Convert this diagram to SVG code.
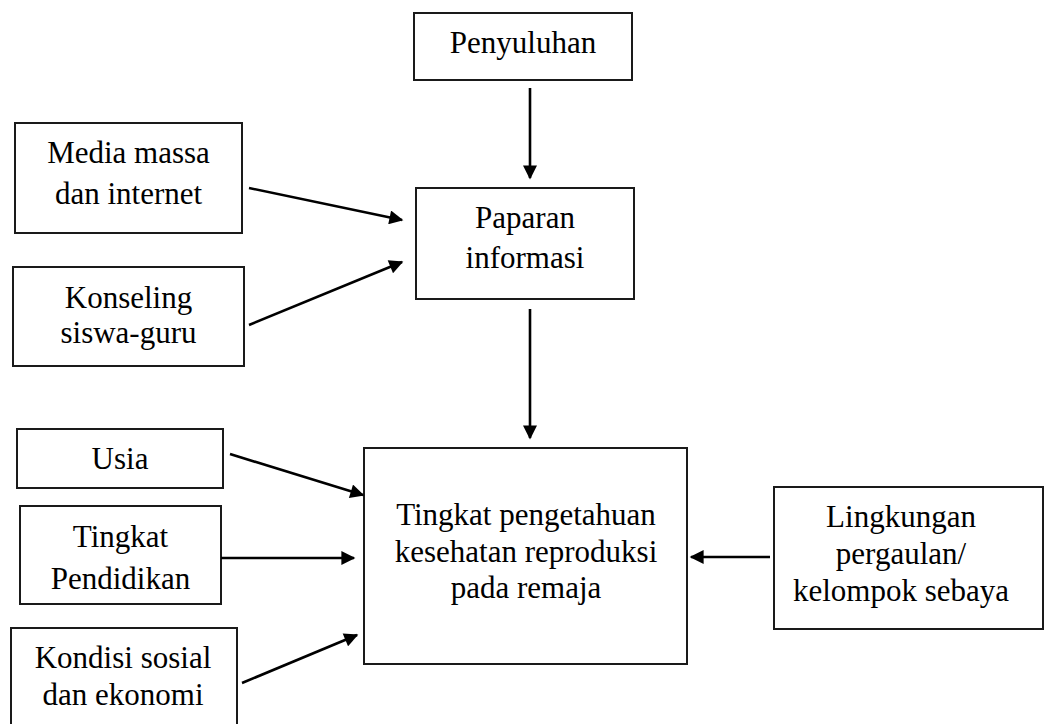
<svg xmlns="http://www.w3.org/2000/svg" width="1046" height="724" viewBox="0 0 1046 724">
<style>
.box{fill:#fff;stroke:#1a1a1a;stroke-width:2}
.c{stroke:#000;stroke-width:2.6;fill:none;marker-end:url(#ah)}
</style>
<defs>
<marker id="ah" viewBox="0 0 10 10" refX="9" refY="5" markerUnits="userSpaceOnUse" markerWidth="15" markerHeight="14" orient="auto">
<path d="M0,0 L10,5 L0,10 z" fill="#000"/>
</marker>
</defs>
<rect width="1046" height="724" fill="#fff"/>
<g id="penyuluhan"><rect class="box" x="414" y="13" width="218" height="67"/><text font-family="Liberation Serif" font-size="31" text-anchor="middle" x="523" y="53">Penyuluhan</text></g>
<g id="media"><rect class="box" x="15" y="123" width="227" height="110"/><text font-family="Liberation Serif" font-size="31" text-anchor="middle" x="128.5" y="163">Media massa</text><text font-family="Liberation Serif" font-size="31" text-anchor="middle" x="128.5" y="204">dan internet</text></g>
<g id="konseling"><rect class="box" x="13" y="267" width="231" height="99"/><text font-family="Liberation Serif" font-size="31" text-anchor="middle" x="128.5" y="308">Konseling</text><text font-family="Liberation Serif" font-size="31" text-anchor="middle" x="128.5" y="343">siswa-guru</text></g>
<g id="paparan"><rect class="box" x="416" y="188" width="218" height="111"/><text font-family="Liberation Serif" font-size="31" text-anchor="middle" x="525" y="228">Paparan</text><text font-family="Liberation Serif" font-size="31" text-anchor="middle" x="525" y="268">informasi</text></g>
<g id="tingkat"><rect class="box" x="364" y="448" width="323" height="216"/><text font-family="Liberation Serif" font-size="31" text-anchor="middle" x="526" y="525">Tingkat pengetahuan</text><text font-family="Liberation Serif" font-size="31" text-anchor="middle" x="526" y="562">kesehatan reproduksi</text><text font-family="Liberation Serif" font-size="31" text-anchor="middle" x="526" y="598">pada remaja</text></g>
<g id="usia"><rect class="box" x="17" y="429" width="206" height="59"/><text font-family="Liberation Serif" font-size="31" text-anchor="middle" x="120" y="469">Usia</text></g>
<g id="pendidikan"><rect class="box" x="20" y="506" width="201" height="98"/><text font-family="Liberation Serif" font-size="31" text-anchor="middle" x="120.5" y="547">Tingkat</text><text font-family="Liberation Serif" font-size="31" text-anchor="middle" x="120.5" y="589">Pendidikan</text></g>
<g id="kondisi"><rect class="box" x="11" y="628" width="226" height="110"/><text font-family="Liberation Serif" font-size="31" text-anchor="middle" x="123" y="668">Kondisi sosial</text><text font-family="Liberation Serif" font-size="31" text-anchor="middle" x="123" y="705">dan ekonomi</text></g>
<g id="lingkungan"><rect class="box" x="774" y="487" width="269" height="142"/><text font-family="Liberation Serif" font-size="31" text-anchor="middle" x="901" y="527">Lingkungan</text><text font-family="Liberation Serif" font-size="31" text-anchor="middle" x="901" y="564">pergaulan/</text><text font-family="Liberation Serif" font-size="31" text-anchor="middle" x="901" y="601">kelompok sebaya</text></g>
<g id="connectors">
<line class="c" x1="530" y1="88" x2="530" y2="178"/>
<line class="c" x1="249" y1="188" x2="402" y2="220"/>
<line class="c" x1="249" y1="325" x2="402" y2="262"/>
<line class="c" x1="530" y1="309" x2="530" y2="438"/>
<line class="c" x1="230" y1="454" x2="363" y2="495"/>
<line class="c" x1="221" y1="558" x2="354" y2="558"/>
<line class="c" x1="242" y1="683" x2="357" y2="635"/>
<line class="c" x1="770" y1="557" x2="691" y2="557"/>
</g>
</svg>
